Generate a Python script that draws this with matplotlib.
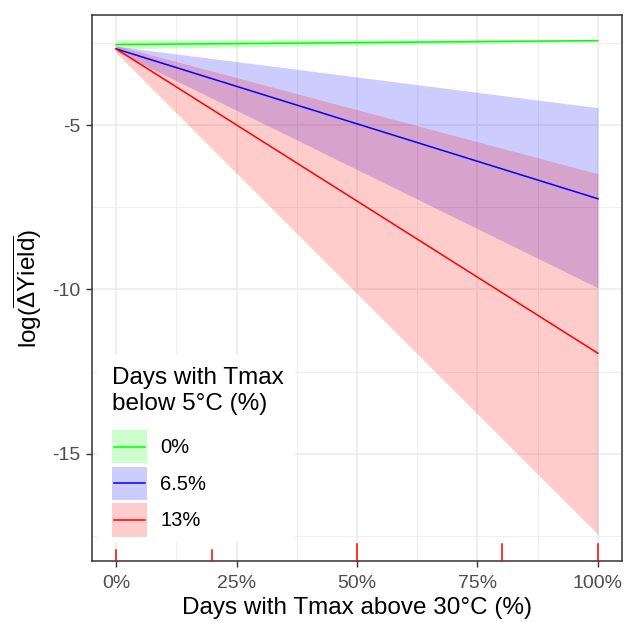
import numpy as np
import matplotlib
matplotlib.use("Agg")
import matplotlib.pyplot as plt
from matplotlib.patches import Rectangle
from matplotlib.lines import Line2D
from matplotlib.legend_handler import HandlerBase
from matplotlib.ticker import FixedLocator, PercentFormatter

plt.rcParams["font.family"] = ["Liberation Sans", "DejaVu Sans"]
plt.rcParams["mathtext.fontset"] = "custom"
plt.rcParams["mathtext.rm"] = "Liberation Sans"
plt.rcParams["mathtext.it"] = "Liberation Sans"
plt.rcParams["axes.unicode_minus"] = False

# -------------------------------------------------------------------------
# Data
# -------------------------------------------------------------------------
hot_days = [0.0, 1.0]                      # share of days with Tmax > 30C
groups = ["0%", "6.5%", "13%"]              # share of days with Tmax < 5C
fit = {
    "0%":   [-2.55, -2.43],
    "6.5%": [-2.68, -7.24],
    "13%":  [-2.68, -11.94],
}
lower = {
    "0%":   [-2.68, -2.46],
    "6.5%": [-2.75, -9.95],
    "13%":  [-2.80, -17.45],
}
upper = {
    "0%":   [-2.40, -2.40],
    "6.5%": [-2.60, -4.47],
    "13%":  [-2.58, -6.48],
}
rug_x = [0.0, 0.2, 0.5, 0.8, 1.0]
rug_len = [0.02, 0.02, 0.031, 0.031, 0.031]

colors = {"0%": "#00FF00", "6.5%": "#0000FF", "13%": "#FF0000"}

W, H = 624, 623


class RibbonKey(HandlerBase):
    """ggplot-like key: light filled square with the line through the middle."""
    def create_artists(self, legend, orig_handle, xdescent, ydescent,
                       width, height, fontsize, trans):
        c = orig_handle.get_color()
        x0, y0 = -xdescent, -ydescent
        rect = Rectangle((x0, y0), width, height, facecolor=c, alpha=0.2,
                         lw=0, transform=trans)
        line = Line2D([x0 + 0.05 * width, x0 + 0.95 * width],
                      [y0 + height / 2] * 2, color=c, lw=1.1,
                      transform=trans)
        return [rect, line]


# -------------------------------------------------------------------------
# Plot
# -------------------------------------------------------------------------
fig = plt.figure(figsize=(W / 100, H / 100), dpi=100)
ax = fig.add_axes([92 / W, 62 / H, 530 / W, 546 / H])

for g in groups:
    ax.fill_between(hot_days, lower[g], upper[g], color=colors[g],
                    alpha=0.2, lw=0, zorder=2)
lines = []
for g in groups:
    ln, = ax.plot(hot_days, fit[g], color=colors[g], lw=1.1, zorder=3)
    lines.append(ln)

for xr, ln in zip(rug_x, rug_len):
    ax.plot([xr, xr], [0, ln], color="#FF0000", lw=1.1,
            transform=ax.get_xaxis_transform(), clip_on=False, zorder=4)

ax.set_xlim(-0.05, 1.05)
ax.set_ylim(-18.26, -1.65)

ax.xaxis.set_major_locator(FixedLocator([0, 0.25, 0.5, 0.75, 1.0]))
ax.xaxis.set_minor_locator(FixedLocator([0.125, 0.375, 0.625, 0.875]))
ax.xaxis.set_major_formatter(PercentFormatter(1.0, decimals=0))
ax.yaxis.set_major_locator(FixedLocator([-5, -10, -15]))
ax.yaxis.set_minor_locator(FixedLocator([-2.5, -7.5, -12.5, -17.5]))

ax.grid(which="major", color="#EBEBEB", lw=1.1, zorder=0)
ax.grid(which="minor", color="#EBEBEB", lw=0.55, zorder=0)
ax.set_axisbelow(True)

for s in ax.spines.values():
    s.set_color("#333333")
    s.set_linewidth(1.1)
ax.tick_params(which="major", length=4.5, width=1.0, color="#333333",
               labelsize=14, labelcolor="#4D4D4D", pad=4)
ax.tick_params(axis="x", which="major", pad=5.5)
ax.tick_params(which="minor", length=0)

ax.set_xlabel("Days with Tmax above 30°C (%)", fontsize=17.5, color="black",
              labelpad=3.5)
ax.set_ylabel(r"log($\overline{\Delta\mathrm{Yield}}$)", fontsize=17.5,
              color="black", labelpad=6)

# legend background (ggplot-style box inside the panel)
ax.add_patch(Rectangle((5 / 530, 19 / 546), 198 / 530, 187 / 546,
                       transform=ax.transAxes, facecolor="white",
                       edgecolor="none", zorder=1))
ax.text(20 / 530, (561 - 367) / 546, "Days with Tmax\nbelow 5°C (%)",
        transform=ax.transAxes, ha="left", va="top", fontsize=17.5,
        linespacing=1.25, zorder=5)

leg = ax.legend(lines, groups, loc="lower left",
                bbox_to_anchor=(20 / 530, 24 / 546),
                handler_map={Line2D: RibbonKey()},
                fontsize=14.5, frameon=False,
                handlelength=1.75, handleheight=2.2, labelspacing=0.15,
                handletextpad=0.65, borderpad=0.0, borderaxespad=0.0)
leg.set_zorder(5)

fig.savefig("out.png", dpi=100)
